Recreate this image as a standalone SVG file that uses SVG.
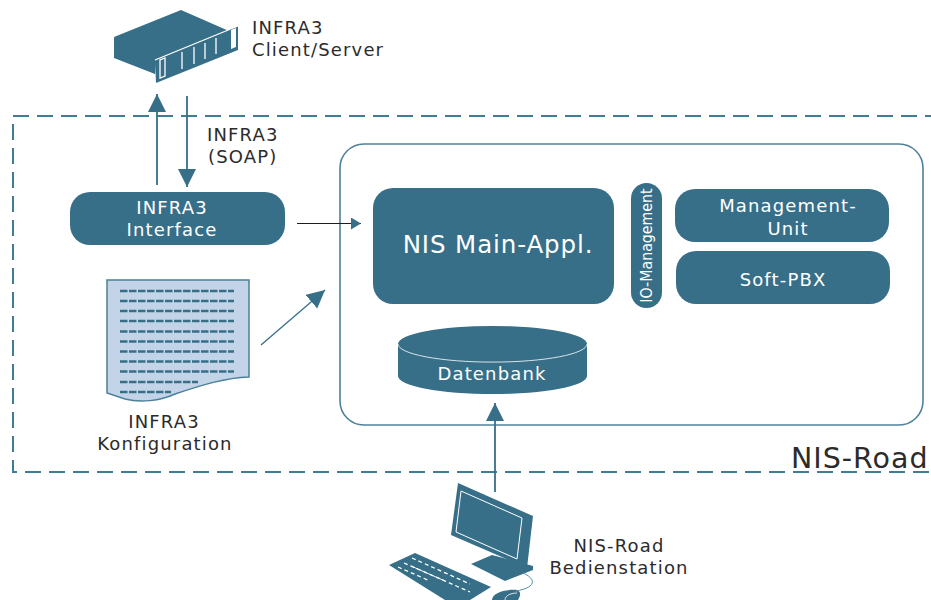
<svg xmlns="http://www.w3.org/2000/svg" width="931" height="600" viewBox="0 0 931 600">
<style>
text{font-family:"DejaVu Sans","Noto Sans",sans-serif}
.d{font-size:18px;fill:#2b2b2b;letter-spacing:1.150px}
.w{font-size:18px;fill:#fff;letter-spacing:1.150px;text-anchor:middle}
.m{text-anchor:middle}
.b{fill:#376f89}
.c{fill:none;stroke:#376f89;stroke-width:1.8}
.wl{fill:none;stroke:#fff;stroke-width:1.3}
.t{fill:none;stroke:#376f89;stroke-width:2.4;stroke-dasharray:7.5 1.5}
</style>
<defs>
<marker id="a" markerUnits="userSpaceOnUse" markerWidth="20" markerHeight="20" refX="18" refY="9" orient="auto"><path d="M0 0L18 9L0 18Z" fill="#376f89"/></marker>
<marker id="s" markerUnits="userSpaceOnUse" markerWidth="14" markerHeight="14" refX="10" refY="6" orient="auto"><path d="M0 0L10 6L0 12Z" fill="#376f89"/></marker>
</defs>
<rect x="13" y="116" width="940" height="356" fill="none" stroke="#3f7c96" stroke-width="2" stroke-dasharray="16 8"/>
<g id="nis-road-box">
<rect x="340" y="144" width="583" height="281" rx="24" fill="#fff" stroke="#4f8199" stroke-width="1.6"/>
<text x="791" y="468" style="font-size:28.500px;fill:#2b2b2b;letter-spacing:1px">NIS-Road</text>
</g>
<g id="connectors">
<path class="c" d="M157 185V94" marker-end="url(#a)"/>
<path class="c" d="M187 96V187" marker-end="url(#a)"/>
<path class="c" style="stroke:#1d1d1d;stroke-width:1.200" d="M297 223.500H361" marker-end="url(#s)"/>
<path class="c" style="stroke-width:1.3" d="M261 345L325 290" marker-end="url(#a)"/>
<path class="c" d="M495 492V403" marker-end="url(#a)"/>
</g>
<g id="client-server">
<path class="b" d="M114 37L181 10L229 31L155 60V74Z"/>
<path class="b" d="M114 37V58L155 74L156 60Z"/>
<path class="b" d="M155 60L238 26V50L156 83Z"/>
<path class="wl" d="M155 60L238 26M160 60V78L165 76V58ZM182 52V69M194 47V64M205 43V59M216 38V54"/>
<path d="M231 30L236 28V47L231 49Z" fill="#fff"/>
<text class="d" x="252" y="34">INFRA3</text>
<text class="d" x="252" y="56">Client/Server</text>
</g>
<text class="d" x="207" y="141">INFRA3</text>
<text class="d" x="208" y="163">(SOAP)</text>
<g id="infra3-interface">
<rect class="b" x="70" y="192" width="215" height="53" rx="20"/>
<text class="w" x="172" y="214">INFRA3</text>
<text class="w" x="172" y="236">Interface</text>
</g>
<g id="infra3-konfiguration">
<path d="M107 280H249V377C225 378 205 384 175 394C160 401 140 403 125 399L107 393Z" fill="#c3d4e8" stroke="#4a8098" stroke-width="1.5"/>
<path class="t" d="M120 291H234M120 301H234M120 311H234M120 321H234M120 331.500H234M120 341.500H234M120 351.500H234M120 361.500H234M120 371.500H234M120 382H198M120 392H171"/>
<text class="d m" x="164" y="428">INFRA3</text>
<text class="d m" x="165" y="450">Konfiguration</text>
</g>
<g id="nis-main-appl">
<rect class="b" x="373" y="188" width="241" height="116" rx="20"/>
<text class="w" x="498" y="253" style="font-size:24.500px;letter-spacing:.9px">NIS Main-Appl.</text>
</g>
<g id="io-management">
<rect class="b" x="631" y="183" width="31" height="125" rx="15.500"/>
<text class="w" transform="translate(652 245.500) rotate(-90) scale(.86 1)" style="font-size:16.500px;letter-spacing:0">IO-Management</text>
</g>
<g id="management-unit">
<rect class="b" x="675" y="189" width="214" height="53" rx="20"/>
<text class="w" x="788" y="212">Management-</text>
<text class="w" x="788" y="235">Unit</text>
</g>
<g id="soft-pbx">
<rect class="b" x="676" y="251" width="214" height="53" rx="20"/>
<text class="w" x="783" y="286">Soft-PBX</text>
</g>
<g id="datenbank">
<path class="b" d="M398 344A94 18 0 0 1 587 344V376A94 18 0 0 1 398 376Z"/>
<path class="wl" style="stroke-width:.8" d="M398 344A94 18 0 0 0 587 344"/>
<text class="w" x="492" y="380">Datenbank</text>
</g>
<g id="bedienstation">
<path class="b" d="M458 483L533 516L527 568L451 535Z"/>
<path class="wl" style="stroke-width:1" d="M461 491L522 518L517 559L456 532Z"/>
<path class="b" d="M471 564L492 555L533 566L533 570L505 581Z"/>
<path class="b" d="M389 565L415 553L491 587L470 600H445Z"/>
<path class="wl" stroke-dasharray="4 3" d="M412 558L470 584M404 563L470 592M398 567L430 581"/>
<path class="wl" style="stroke-width:1" d="M411 566L445 581"/>
<path class="b" d="M492 600C492 593 505 589 517 590C522 592 520 596 518 600Z"/>
<path class="wl" style="stroke-width:.8" d="M505 600C505 595 512 593 517 593"/>
<path fill="none" stroke="#5b8ea6" d="M523 573C532 577 535 582 530 586C525 590 518 590 515 592"/>
<text class="d m" x="619" y="552">NIS-Road</text>
<text class="d m" x="619" y="574">Bedienstation</text>
</g>
</svg>
